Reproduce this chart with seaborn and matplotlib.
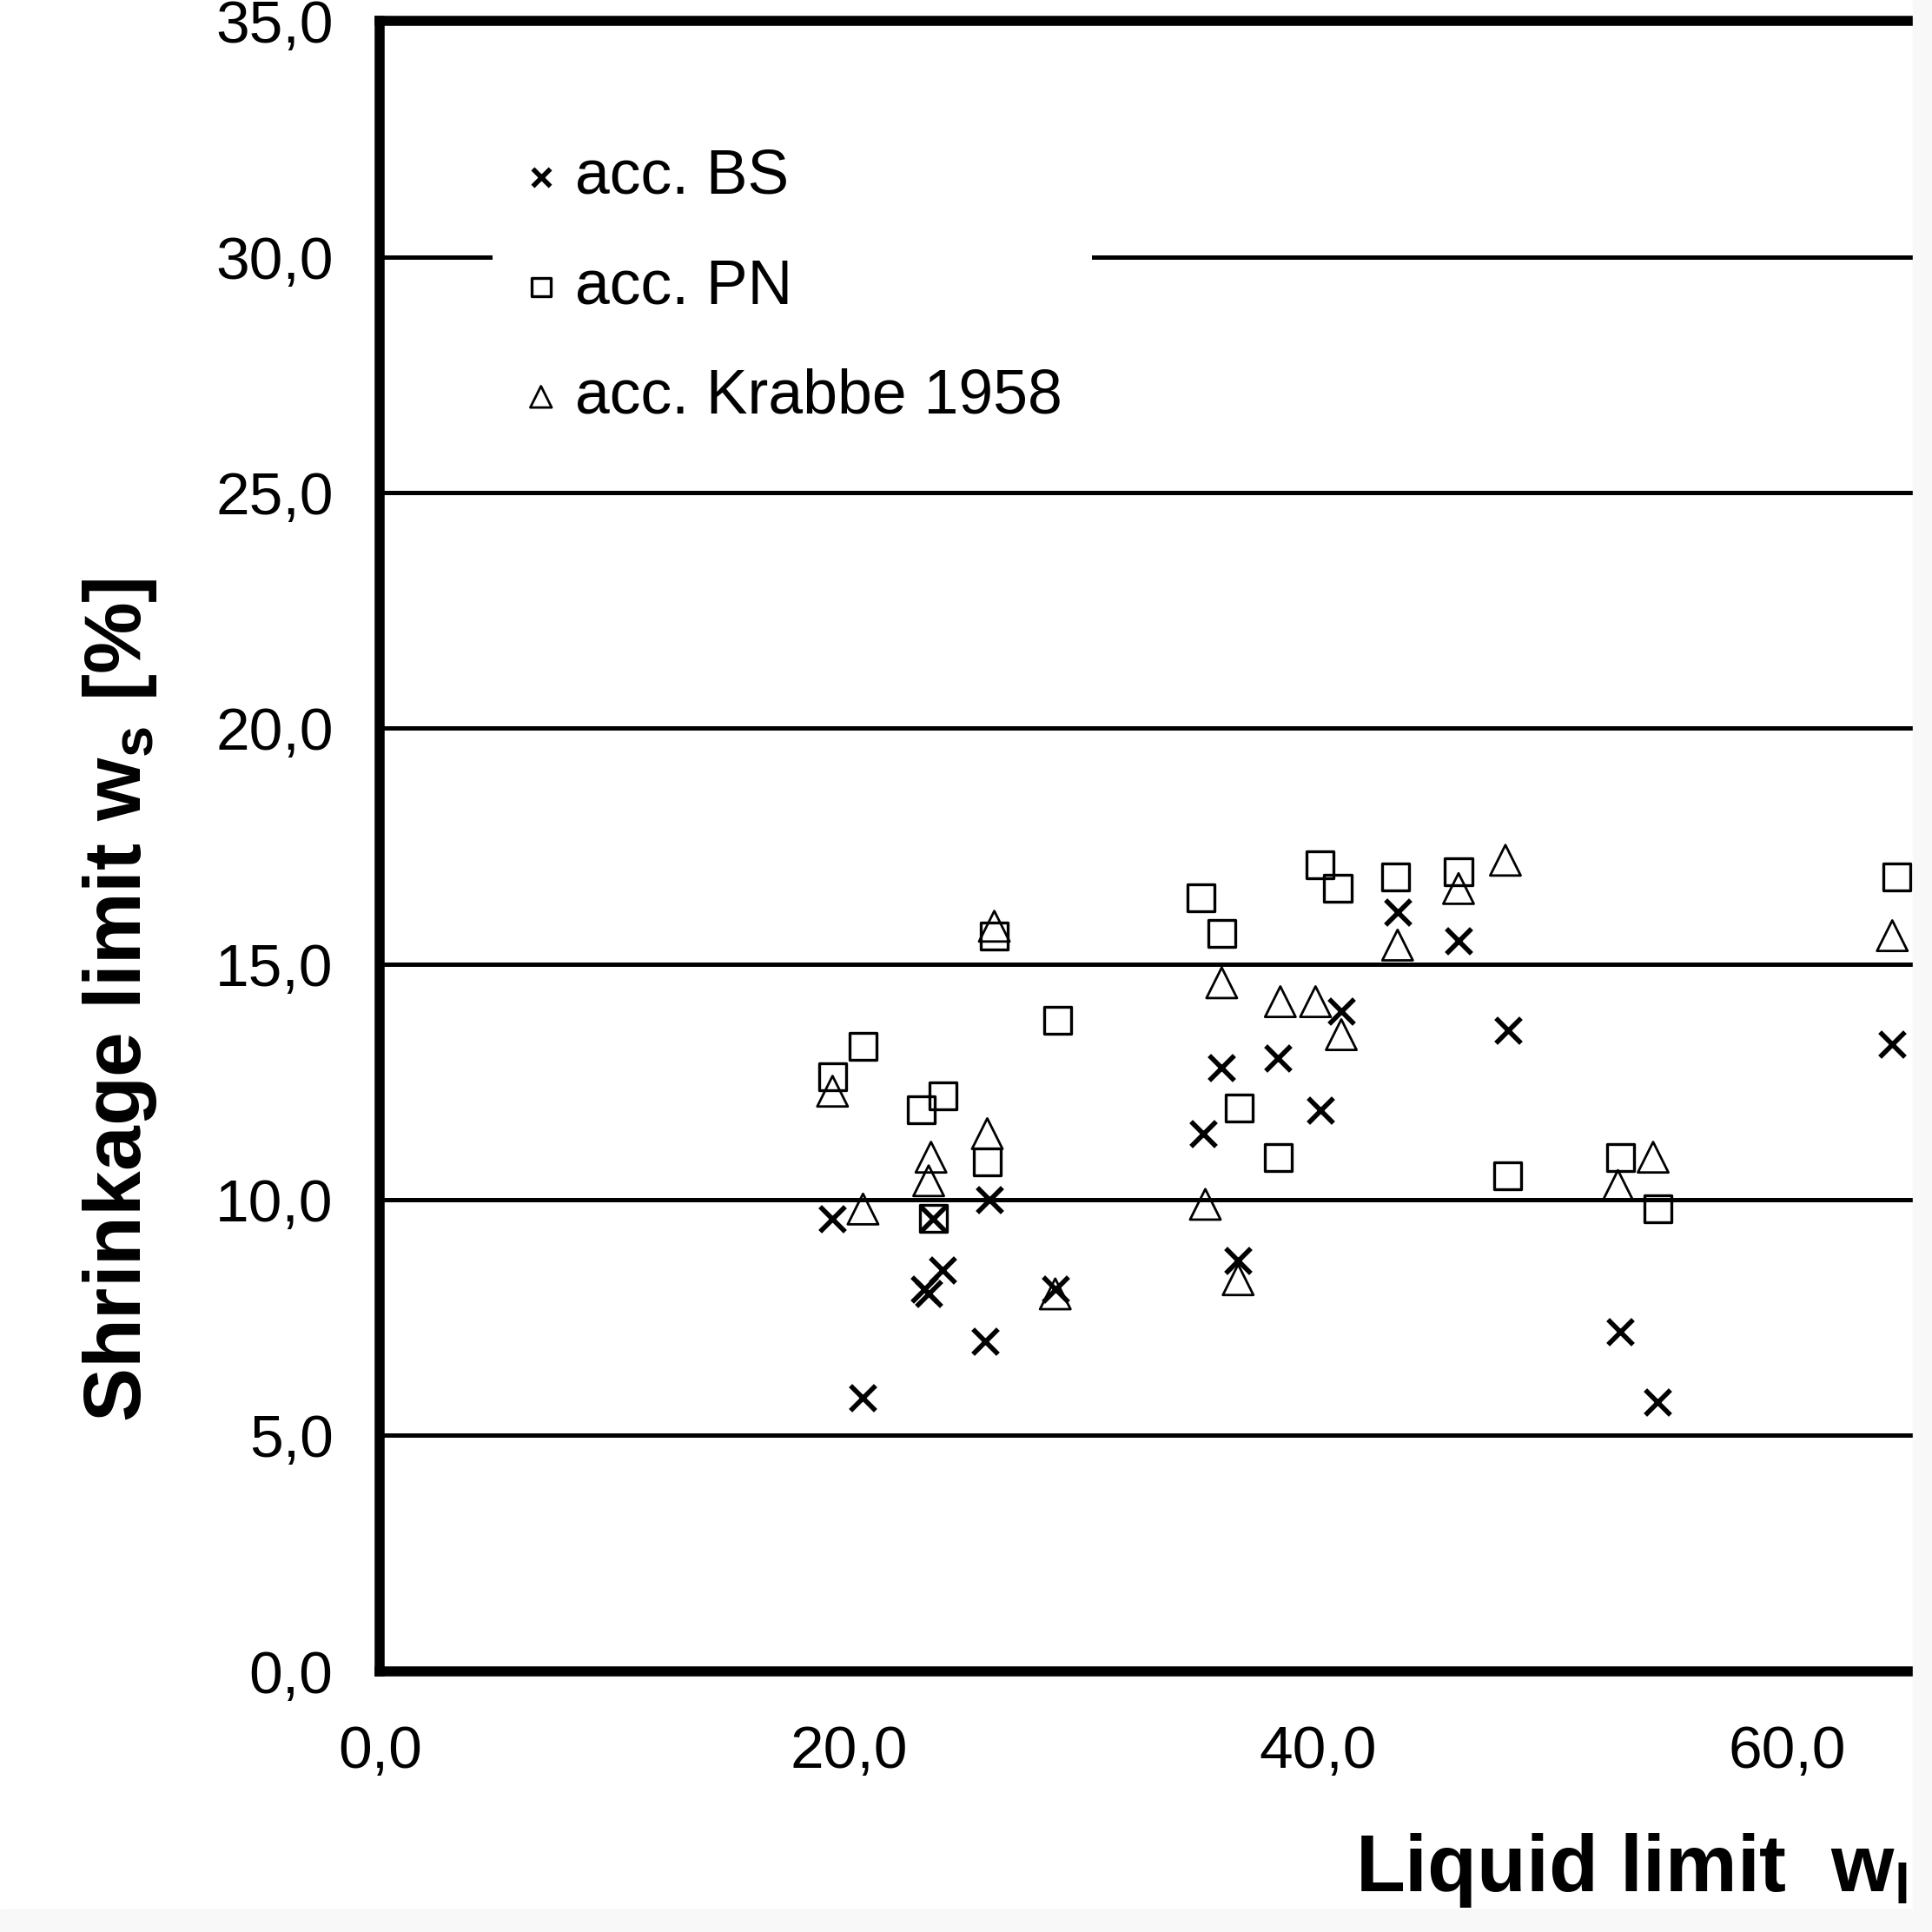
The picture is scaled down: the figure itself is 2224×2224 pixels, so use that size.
import pandas as pd
import numpy as np
import matplotlib
matplotlib.use('Agg')
import matplotlib.pyplot as plt
import seaborn as sns
from matplotlib.ticker import FuncFormatter, FixedLocator
from matplotlib.patches import Rectangle

# Liquid limit / shrinkage limit values
bs_ll = [19.3, 20.6, 23.6, 24.0, 23.2, 23.4, 25.8, 26.0, 28.8, 35.1, 35.9, 36.6,
         38.3, 40.1, 41.0, 43.4, 46.0, 48.1, 52.9, 54.5, 64.5]
bs_sl = [9.6, 5.8, 9.6, 8.5, 8.1, 8.0, 7.0, 10.0, 8.1, 11.4, 12.8, 8.7,
         13.0, 11.9, 14.0, 16.1, 15.5, 13.6, 7.2, 5.7, 13.3]

pn_ll = [19.3, 20.6, 23.1, 24.0, 23.6, 25.9, 26.2, 28.9, 35.0, 35.9, 36.65, 38.3,
         40.1, 40.85, 43.3, 46.0, 48.1, 52.9, 54.5, 64.7]
pn_sl = [12.6, 13.25, 11.9, 12.2, 9.6, 10.8, 15.6, 13.8, 16.4, 15.65, 11.95, 10.9,
         17.1, 16.6, 16.85, 16.95, 10.5, 10.9, 9.8, 16.85]

kr_ll = [19.3, 20.6, 23.5, 23.4, 25.9, 26.2, 28.8, 35.2, 35.9, 36.6, 38.4, 39.9,
         41.0, 43.4, 46.0, 48.0, 52.8, 54.3, 64.5]
kr_sl = [12.3, 9.8, 10.9, 10.4, 11.4, 15.8, 8.0, 9.9, 14.6, 8.3, 14.2, 14.2,
         13.5, 15.4, 16.6, 17.2, 10.3, 10.9, 15.6]

methods = ['acc. BS', 'acc. PN', 'acc. Krabbe 1958']
x_ticks = [0, 20, 40, 60]
y_ticks = [0, 5, 10, 15, 20, 25, 30, 35]

df = pd.concat([
    pd.DataFrame({'ll': bs_ll, 'sl': bs_sl, 'method': methods[0]}),
    pd.DataFrame({'ll': pn_ll, 'sl': pn_sl, 'method': methods[1]}),
    pd.DataFrame({'ll': kr_ll, 'sl': kr_sl, 'method': methods[2]}),
])

sns.set_style('white')
plt.rcParams['font.family'] = ['Liberation Sans', 'DejaVu Sans']
plt.rcParams['mathtext.fontset'] = 'custom'
plt.rcParams['mathtext.rm'] = 'Liberation Sans'
plt.rcParams['mathtext.bf'] = 'Liberation Sans:bold'
plt.rcParams['mathtext.it'] = 'Liberation Sans:italic'
plt.rcParams['text.color'] = 'black'
plt.rcParams['axes.labelcolor'] = 'black'
plt.rcParams['xtick.color'] = 'black'
plt.rcParams['ytick.color'] = 'black'

fig = plt.figure(figsize=(22.24, 22.24), dpi=100)
ax = fig.add_axes([0.1967, 0.1351, 0.7933, 0.8539])

# marker style per method
styles = {
    'acc. BS': dict(marker='x', s=430, color='black', linewidth=4),
    'acc. PN': dict(marker='s', s=500, facecolor='none', edgecolor='black', linewidth=2.4),
    'acc. Krabbe 1958': dict(marker='^', s=640, facecolor='none', edgecolor='black', linewidth=2.0),
}
for m in methods:
    sub = df[df['method'] == m]
    sns.scatterplot(data=sub, x='ll', y='sl', ax=ax, label=m, zorder=3, **styles[m])

ax.set_xlim(0, 65.37)
ax.set_ylim(0, 35)
ax.xaxis.set_major_locator(FixedLocator(x_ticks))
ax.yaxis.set_major_locator(FixedLocator(y_ticks))
fmt = FuncFormatter(lambda v, p: f'{v:.1f}'.replace('.', ','))
ax.xaxis.set_major_formatter(fmt)
ax.yaxis.set_major_formatter(fmt)
ax.tick_params(axis='y', length=14.8, width=3, pad=24, labelsize=50, color='black')
ax.tick_params(axis='x', length=0, pad=44, labelsize=50)

ax.set_axisbelow(True)
ax.yaxis.grid(True, color='black', linewidth=3.6)
ax.xaxis.grid(False)

for side in ['left', 'bottom', 'top']:
    ax.spines[side].set_linewidth(8.3)
    ax.spines[side].set_color('black')
ax.spines['right'].set_visible(False)

ax.set_xlabel(r'Liquid limit  $\mathbf{w_l}$', fontsize=67, fontweight='bold')
ax.xaxis.set_label_coords(0.6363, -0.1335)
ax.xaxis.label.set_ha('left')
ax.xaxis.label.set_va('baseline')

ax.set_ylabel(r'Shrinkage limit $\mathbf{w_s}$ [%]', fontsize=67, fontweight='bold')
ax.yaxis.set_label_coords(-0.1562, 0.4068)
ax.yaxis.label.set_va('baseline')

leg = ax.legend(loc='upper left', bbox_to_anchor=(0.0734, 0.941), borderaxespad=0,
                fontsize=51.5, frameon=True, fancybox=False, markerscale=0.7,
                handlelength=0.6, handletextpad=0.25, borderpad=0.48, labelspacing=0.83)
leg.get_frame().set_facecolor('white')
leg.get_frame().set_edgecolor('none')
leg.get_frame().set_alpha(1)

# light grey border strips of the original picture
fig.add_artist(Rectangle((2201.7 / 2224, 0), 1, 1, transform=fig.transFigure,
                         color='#f8f8f8', zorder=10))
fig.add_artist(Rectangle((0, 0), 1, 26 / 2224, transform=fig.transFigure,
                         color='#f8f8f8', zorder=10))

fig.savefig('out.png', dpi=100, facecolor='white')
